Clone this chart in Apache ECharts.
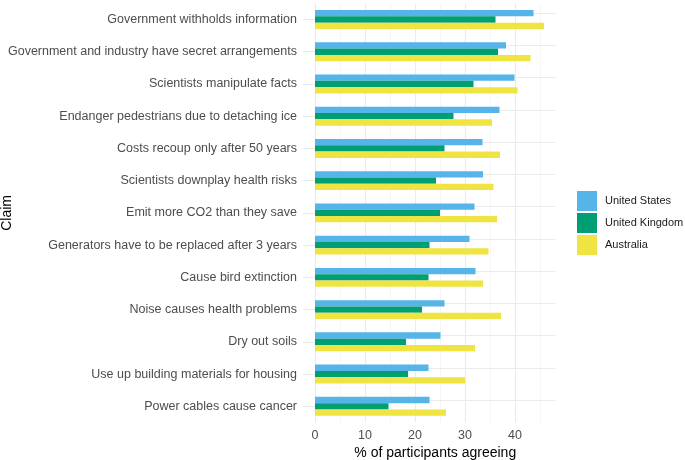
<!DOCTYPE html>
<html>
<head>
<meta charset="utf-8">
<script src="https://cdn.jsdelivr.net/npm/echarts@6/dist/echarts.min.js"></script>
<style>
html,body{margin:0;padding:0;background:#fff;}
#c{width:685px;height:460px;}
</style>
</head>
<body>
<div id="c"></div>
<script>
const claims = [
  'Government withholds information',
  'Government and industry have secret arrangements',
  'Scientists manipulate facts',
  'Endanger pedestrians due to detaching ice',
  'Costs recoup only after 50 years',
  'Scientists downplay health risks',
  'Emit more CO2 than they save',
  'Generators have to be replaced after 3 years',
  'Cause bird extinction',
  'Noise causes health problems',
  'Dry out soils',
  'Use up building materials for housing',
  'Power cables cause cancer'
];
const unitedStates = [43.7, 38.2, 39.9, 36.9, 33.5, 33.6, 31.9, 30.9, 32.1, 25.9, 25.1, 22.7, 22.9];
const unitedKingdom = [36.1, 36.6, 31.7, 27.7, 25.9, 24.2, 25.0, 22.9, 22.7, 21.4, 18.2, 18.6, 14.7];
const australia = [45.8, 43.1, 40.5, 35.4, 37.0, 35.7, 36.4, 34.7, 33.6, 37.2, 32.0, 30.0, 26.2];
const majorGrid = [0, 10, 20, 30, 40];
const minorGrid = [5, 15, 25, 35, 45];

const chart = echarts.init(document.getElementById('c'), null, {renderer: 'canvas'});

const gridLines = []
  .concat(majorGrid.map(v => ({xAxis: v, lineStyle: {color: '#EBEBEB', width: 1.1, type: 'solid'}})))
  .concat(minorGrid.map(v => ({xAxis: v, lineStyle: {color: '#F3F3F3', width: 0.8, type: 'solid'}})))
  .concat(claims.map(c => ({yAxis: c, lineStyle: {color: '#EBEBEB', width: 1.1, type: 'solid'}})));

function bar(name, data, color, withGrid) {
  const s = {
    name: name,
    type: 'bar',
    data: data,
    barWidth: 6.3,
    barGap: '0%',
    itemStyle: {color: color},
    z: 2,
    animation: false
  };
  if (withGrid) {
    s.markLine = {
      silent: true,
      symbol: 'none',
      z: 1,
      label: {show: false},
      animation: false,
      data: gridLines
    };
  }
  return s;
}

chart.setOption({
  animation: false,
  backgroundColor: '#ffffff',
  textStyle: {fontFamily: 'Liberation Sans'},
  grid: {left: 315, top: 3.4, width: 240.5, height: 419, containLabel: false, outerBoundsMode: 'none'},
  legend: {
    orient: 'vertical',
    left: 577,
    top: 191,
    padding: 0,
    icon: 'rect',
    itemWidth: 20,
    itemHeight: 20,
    itemGap: 2,
    textStyle: {fontSize: 11, color: '#1a1a1a', fontFamily: 'Liberation Sans', padding: [0, 0, 0, 3]},
    data: ['United States', 'United Kingdom', 'Australia']
  },
  xAxis: {
    type: 'value',
    min: 0,
    max: 48.1,
    interval: 10,
    axisLine: {show: false},
    axisTick: {show: false},
    splitLine: {show: false},
    axisLabel: {color: '#4D4D4D', fontSize: 12.5, margin: 7, showMaxLabel: false, fontFamily: 'Liberation Sans'},
    name: '% of participants agreeing',
    nameLocation: 'middle',
    nameGap: 23.5,
    nameMoveOverlap: false,
    nameTextStyle: {fontSize: 14, color: '#000', fontFamily: 'Liberation Sans'}
  },
  yAxis: {
    type: 'category',
    inverse: true,
    data: claims,
    axisLine: {show: false},
    axisTick: {show: true, alignWithLabel: true, length: 12, lineStyle: {color: '#EBEBEB', width: 1.1}},
    splitLine: {show: false},
    axisLabel: {color: '#4D4D4D', fontSize: 12.5, margin: 18, fontFamily: 'Liberation Sans'},
    name: 'Claim',
    nameLocation: 'middle',
    nameGap: 301,
    nameMoveOverlap: false,
    nameTextStyle: {fontSize: 14, color: '#000', fontFamily: 'Liberation Sans'}
  },
  series: [
    bar('United States', unitedStates, '#56B4E9', true),
    bar('United Kingdom', unitedKingdom, '#009E73', false),
    bar('Australia', australia, '#F0E442', false)
  ]
});
</script>
</body>
</html>
